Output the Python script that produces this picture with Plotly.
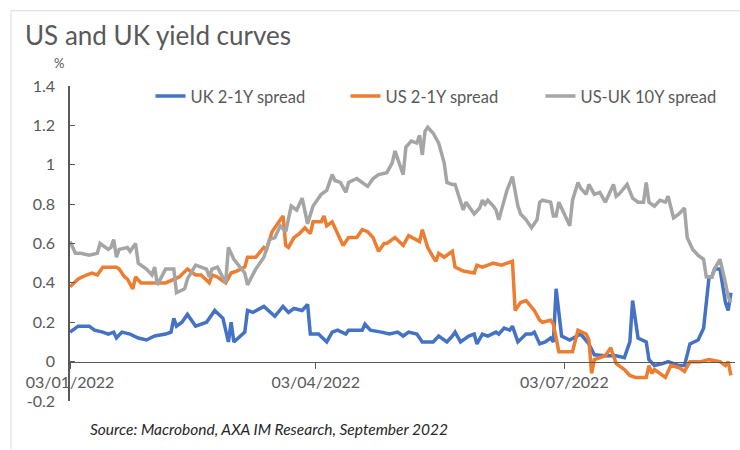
import plotly.graph_objects as go

# ---------------- data ----------------
uk_dates = ["2022-01-03","2022-01-06","2022-01-10","2022-01-12","2022-01-15","2022-01-17","2022-01-19","2022-01-20",
            "2022-01-22","2022-01-25","2022-01-28","2022-01-31","2022-02-03","2022-02-07","2022-02-09","2022-02-10",
            "2022-02-11","2022-02-13","2022-02-15","2022-02-18","2022-02-22","2022-02-25","2022-02-28","2022-03-02",
            "2022-03-03","2022-03-04","2022-03-08","2022-03-09","2022-03-11","2022-03-15","2022-03-19","2022-03-22",
            "2022-03-24","2022-03-26","2022-03-29","2022-03-31","2022-04-01","2022-04-04","2022-04-07","2022-04-09",
            "2022-04-11","2022-04-14","2022-04-15","2022-04-20","2022-04-21","2022-04-23","2022-04-27","2022-04-30",
            "2022-05-03","2022-05-05","2022-05-07","2022-05-10","2022-05-12","2022-05-13","2022-05-16","2022-05-18",
            "2022-05-21","2022-05-23","2022-05-24","2022-05-26","2022-05-29","2022-05-31","2022-06-01","2022-06-03",
            "2022-06-05","2022-06-08","2022-06-09","2022-06-11","2022-06-13","2022-06-14","2022-06-16","2022-06-19",
            "2022-06-21","2022-06-22","2022-06-24","2022-06-26","2022-06-28","2022-06-29","2022-06-30","2022-07-02",
            "2022-07-05","2022-07-09","2022-07-12","2022-07-14","2022-07-18","2022-07-22","2022-07-25","2022-07-27",
            "2022-07-28","2022-07-30","2022-08-02","2022-08-03","2022-08-05","2022-08-08","2022-08-10","2022-08-14",
            "2022-08-16","2022-08-18","2022-08-21","2022-08-23","2022-08-24","2022-08-25","2022-08-26","2022-08-27",
            "2022-08-29","2022-08-31","2022-09-01","2022-09-02"]
uk_spread = [0.15,0.18,0.18,0.16,0.15,0.14,0.15,0.12,
             0.15,0.14,0.12,0.11,0.13,0.14,0.15,0.22,
             0.18,0.20,0.24,0.18,0.20,0.26,0.22,0.10,
             0.20,0.10,0.15,0.26,0.25,0.28,0.23,0.28,
             0.25,0.27,0.26,0.29,0.14,0.14,0.10,0.15,
             0.16,0.14,0.16,0.16,0.19,0.16,0.15,0.14,
             0.15,0.13,0.15,0.14,0.10,0.10,0.10,0.13,
             0.10,0.13,0.15,0.10,0.13,0.14,0.09,0.14,
             0.13,0.15,0.14,0.17,0.16,0.18,0.10,0.14,
             0.14,0.15,0.09,0.10,0.12,0.10,0.37,0.13,
             0.11,0.14,0.09,0.035,0.03,0.03,0.02,0.10,
             0.31,0.12,0.10,0.01,-0.02,-0.01,0.0,-0.02,
             -0.02,0.09,0.11,0.17,0.31,0.43,0.43,0.47,
             0.47,0.30,0.26,0.35]

us_dates = ["2022-01-03","2022-01-06","2022-01-09","2022-01-11","2022-01-13","2022-01-15","2022-01-17","2022-01-20",
            "2022-01-21","2022-01-23","2022-01-24","2022-01-26","2022-01-27","2022-01-29","2022-02-02","2022-02-07",
            "2022-02-12","2022-02-15","2022-02-18","2022-02-20","2022-02-23","2022-02-24","2022-02-26","2022-03-01",
            "2022-03-03","2022-03-05","2022-03-08","2022-03-09","2022-03-12","2022-03-15","2022-03-16","2022-03-18",
            "2022-03-20","2022-03-22","2022-03-23","2022-03-24","2022-03-26","2022-03-28","2022-03-30","2022-04-01",
            "2022-04-02","2022-04-05","2022-04-06","2022-04-07","2022-04-09","2022-04-11","2022-04-13","2022-04-15",
            "2022-04-18","2022-04-20","2022-04-22","2022-04-24","2022-04-26","2022-04-28","2022-04-29","2022-05-02",
            "2022-05-05","2022-05-07","2022-05-11","2022-05-12","2022-05-14","2022-05-16","2022-05-17","2022-05-18",
            "2022-05-20","2022-05-23","2022-05-24","2022-05-27","2022-05-31","2022-06-01","2022-06-03","2022-06-05",
            "2022-06-07","2022-06-10","2022-06-12","2022-06-14","2022-06-15","2022-06-17","2022-06-19","2022-06-22",
            "2022-06-24","2022-06-25","2022-06-28","2022-06-29","2022-07-01","2022-07-06","2022-07-08","2022-07-11",
            "2022-07-12","2022-07-13","2022-07-14","2022-07-18","2022-07-20","2022-07-22","2022-07-25","2022-07-27",
            "2022-07-29","2022-08-02","2022-08-03","2022-08-04","2022-08-05","2022-08-09","2022-08-11","2022-08-14",
            "2022-08-16","2022-08-18","2022-08-22","2022-08-25","2022-08-29","2022-08-31","2022-09-01","2022-09-02"]
us_spread = [0.38,0.42,0.44,0.45,0.44,0.48,0.48,0.48,
             0.47,0.43,0.42,0.37,0.43,0.40,0.40,0.40,
             0.43,0.47,0.44,0.44,0.40,0.44,0.43,0.40,
             0.45,0.46,0.48,0.53,0.53,0.58,0.57,0.66,
             0.70,0.74,0.59,0.58,0.63,0.65,0.68,0.65,
             0.71,0.71,0.74,0.69,0.71,0.65,0.59,0.63,
             0.63,0.67,0.66,0.63,0.56,0.60,0.60,0.63,
             0.59,0.64,0.61,0.67,0.58,0.53,0.51,0.55,
             0.53,0.56,0.48,0.46,0.45,0.49,0.48,0.49,
             0.50,0.49,0.50,0.51,0.26,0.30,0.31,0.26,
             0.21,0.20,0.21,0.19,0.05,0.05,0.16,0.14,
             0.11,-0.06,0.01,0.03,0.07,-0.01,-0.04,-0.07,
             -0.08,-0.08,-0.02,-0.06,-0.04,-0.08,-0.02,-0.03,
             -0.05,0.0,0.0,0.01,0.0,-0.02,0.0,-0.07]

us_uk_dates = ["2022-01-03","2022-01-05","2022-01-07","2022-01-10","2022-01-13","2022-01-14","2022-01-17","2022-01-18",
               "2022-01-19","2022-01-20","2022-01-21","2022-01-24","2022-01-25","2022-01-27","2022-01-28","2022-01-31",
               "2022-02-02","2022-02-03","2022-02-04","2022-02-07","2022-02-08","2022-02-10","2022-02-11","2022-02-14",
               "2022-02-15","2022-02-17","2022-02-18","2022-02-22","2022-02-23","2022-02-24","2022-02-26","2022-03-01",
               "2022-03-02","2022-03-04","2022-03-08","2022-03-09","2022-03-12","2022-03-15","2022-03-17","2022-03-19",
               "2022-03-21","2022-03-23","2022-03-25","2022-03-27","2022-03-29","2022-03-31","2022-04-02","2022-04-05",
               "2022-04-07","2022-04-09","2022-04-10","2022-04-12","2022-04-14","2022-04-15","2022-04-18","2022-04-20",
               "2022-04-22","2022-04-24","2022-04-26","2022-04-29","2022-05-01","2022-05-02","2022-05-05","2022-05-06",
               "2022-05-08","2022-05-10","2022-05-11","2022-05-12","2022-05-13","2022-05-14","2022-05-16","2022-05-18",
               "2022-05-20","2022-05-21","2022-05-23","2022-05-24","2022-05-26","2022-05-27","2022-05-28","2022-05-30",
               "2022-05-31","2022-06-02","2022-06-03","2022-06-04","2022-06-05","2022-06-07","2022-06-08","2022-06-09",
               "2022-06-10","2022-06-12","2022-06-14","2022-06-15","2022-06-16","2022-06-17","2022-06-19","2022-06-21",
               "2022-06-23","2022-06-24","2022-06-25","2022-06-28","2022-06-29","2022-06-30","2022-07-01","2022-07-03",
               "2022-07-05","2022-07-06","2022-07-08","2022-07-09","2022-07-11","2022-07-12","2022-07-14","2022-07-16",
               "2022-07-18","2022-07-21","2022-07-22","2022-07-23","2022-07-26","2022-07-28","2022-07-30","2022-08-01",
               "2022-08-02","2022-08-03","2022-08-05","2022-08-07","2022-08-09","2022-08-10","2022-08-12","2022-08-14",
               "2022-08-16","2022-08-17","2022-08-19","2022-08-21","2022-08-23","2022-08-24","2022-08-26","2022-08-27",
               "2022-08-29","2022-08-31","2022-09-01","2022-09-02"]
us_uk_spread = [0.61,0.55,0.55,0.54,0.55,0.60,0.57,0.58,
                0.62,0.53,0.57,0.58,0.56,0.60,0.50,0.47,
                0.44,0.48,0.39,0.47,0.47,0.47,0.35,0.37,
                0.42,0.47,0.49,0.47,0.43,0.47,0.48,0.40,
                0.58,0.52,0.45,0.39,0.47,0.53,0.62,0.63,
                0.69,0.66,0.79,0.77,0.83,0.70,0.79,0.85,
                0.87,0.95,0.92,0.91,0.86,0.91,0.93,0.91,
                0.89,0.93,0.95,0.96,1.01,1.07,0.95,1.09,
                1.12,1.11,1.15,1.05,1.17,1.19,1.16,1.11,
                1.01,0.91,0.90,0.90,0.82,0.77,0.81,0.77,
                0.75,0.78,0.82,0.80,0.82,0.79,0.77,0.72,
                0.77,0.87,0.94,0.87,0.79,0.75,0.72,0.68,
                0.72,0.81,0.82,0.81,0.74,0.74,0.81,0.75,
                0.69,0.82,0.91,0.88,0.85,0.90,0.85,0.86,
                0.81,0.90,0.84,0.85,0.90,0.83,0.81,0.81,
                0.91,0.81,0.79,0.82,0.81,0.84,0.73,0.75,
                0.78,0.63,0.57,0.54,0.52,0.43,0.43,0.47,
                0.52,0.40,0.33,0.30]

series_names = ["UK 2-1Y spread", "US 2-1Y spread", "US-UK 10Y spread"]
y_tick_values = [1.4, 1.2, 1.0, 0.8, 0.6, 0.4, 0.2, 0.0, -0.2]
y_tick_labels = ["1.4", "1.2", "1", "0.8", "0.6", "0.4", "0.2", "0", "-0.2"]
x_tick_values = ["2022-01-03", "2022-04-03", "2022-07-03"]
x_tick_labels = ["03/01/2022", "03/04/2022", "03/07/2022"]
x_range = ["2022-01-03", "2022-09-03 12:00"]
y_range = [-0.2, 1.4]

title_text = "US and UK yield curves"
unit_text = "%"
source_text = "Source: Macrobond, AXA IM Research, September 2022"

# ---------------- styling ----------------
FONT = "Lato"
GREY_TXT = "#595959"
colors = ["#4472C4", "#ED7D31", "#A5A5A5"]

fig = go.Figure()
for name, xs, ys, col in zip(series_names,
                             [uk_dates, us_dates, us_uk_dates],
                             [uk_spread, us_spread, us_uk_spread],
                             colors):
    fig.add_trace(go.Scatter(x=xs, y=ys, name=name, mode="lines",
                             line=dict(color=col, width=3.5)))

fig.update_layout(
    width=740, height=450,
    margin=dict(l=70, r=5, t=85.5, b=48.5, autoexpand=False),
    paper_bgcolor="white", plot_bgcolor="white",
    font=dict(family=FONT, color=GREY_TXT),
    title=dict(text=title_text, x=25/740, xref="container", xanchor="left",
               y=1-36/450, yref="container", yanchor="middle",
               font=dict(family=FONT, size=26, color=GREY_TXT)),
    showlegend=True,
    legend=dict(orientation="h", x=80.5/665, xanchor="left", y=0.967, yanchor="middle",
                entrywidth=150, entrywidthmode="pixels",
                font=dict(family=FONT, size=16.5, color=GREY_TXT),
                bgcolor="rgba(0,0,0,0)", traceorder="normal"),
    xaxis=dict(type="date", range=x_range, anchor="free", position=0.125,
               automargin=False,
               showline=True, linecolor="#595959", linewidth=1.25,
               ticks="outside", ticklen=6, tickcolor="#595959", tickwidth=1.25,
               tickvals=x_tick_values, ticktext=x_tick_labels,
               tickfont=dict(family=FONT, size=16, color=GREY_TXT),
               showgrid=False, zeroline=False),
    yaxis=dict(range=y_range, showline=True, linecolor="#595959", linewidth=1.5,
               automargin=False,
               ticks="inside", ticklen=5, tickcolor="#595959", tickwidth=1.25,
               tickvals=y_tick_values, ticktext=y_tick_labels,
               tickfont=dict(family=FONT, size=16, color=GREY_TXT),
               ticklabelstandoff=10,
               showgrid=False, zeroline=False),
    annotations=[
        dict(text=unit_text, xref="paper", yref="paper", x=(59-70)/665, y=(401.5-62)/316,
             xanchor="center", yanchor="middle", showarrow=False,
             font=dict(family=FONT, size=13, color=GREY_TXT)),
        dict(text="<i>" + source_text + "</i>", xref="paper", yref="paper",
             x=(88-70)/665, y=(401.5-430)/316, xanchor="left", yanchor="middle",
             showarrow=False, font=dict(family=FONT, size=15.5, color="#262626")),
    ],
    shapes=[
        dict(type="line", xref="paper", yref="paper", x0=(11-70)/665, x1=(740-70)/665,
             y0=(401.5-10)/316, y1=(401.5-10)/316, line=dict(color="#D9D9D9", width=1)),
        dict(type="line", xref="paper", yref="paper", x0=(11-70)/665, x1=(11-70)/665,
             y0=(401.5-10)/316, y1=(401.5-450)/316, line=dict(color="#D9D9D9", width=1)),
    ],
)

fig.write_html("out.html", config={"displayModeBar": False},
               post_script="document.body.style.margin='0';document.body.style.padding='0';")
